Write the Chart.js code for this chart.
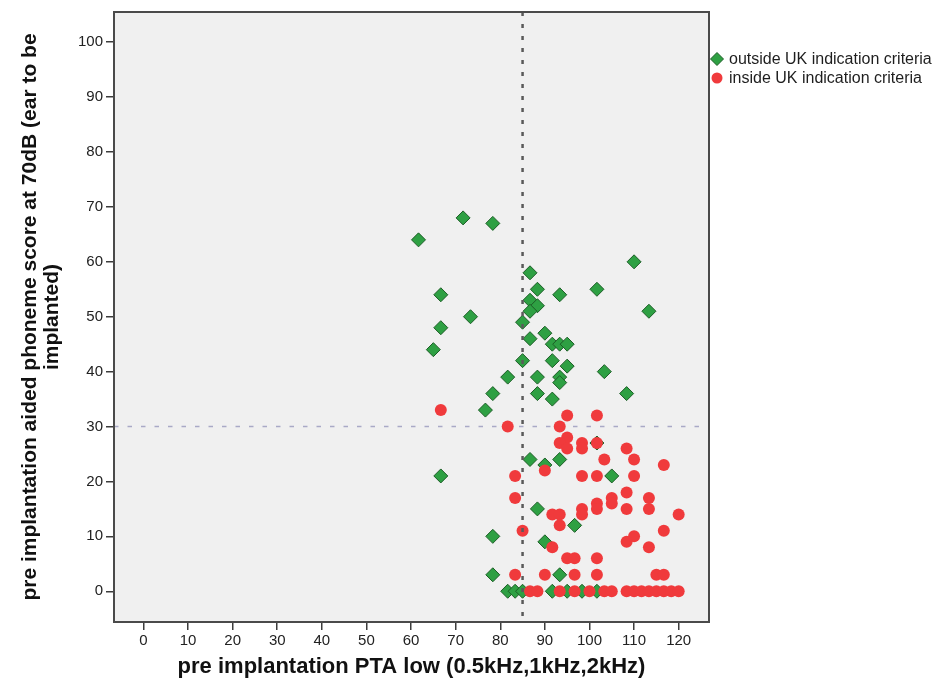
<!DOCTYPE html>
<html>
<head>
<meta charset="utf-8">
<title>Phoneme score vs PTA</title>
<script src="https://cdn.jsdelivr.net/npm/chart.js@4.4.0/dist/chart.umd.min.js"></script>
<style>
  html, body { margin: 0; padding: 0; background: #fff; }
  #scatter { display: block; }
</style>
</head>
<body>
<canvas id="scatter" width="941" height="686"></canvas>
<script>
// Patients outside the UK indication criteria (PTA low, aided phoneme score)
const outsideX = [71.67, 78.33, 61.67, 110, 86.67, 88.33, 93.33, 101.67, 66.67, 86.67, 88.33, 86.67, 113.33, 73.33, 85, 66.67, 90, 86.67, 91.67, 93.33, 95, 65, 85, 91.67, 95, 103.33, 81.67, 88.33, 93.33, 93.33, 78.33, 88.33, 108.33, 91.67, 76.67, 101.67, 86.67, 90, 93.33, 66.67, 105, 88.33, 96.67, 78.33, 90, 78.33, 93.33, 81.67, 83.33, 85, 91.67, 95, 98.33, 101.67]
const outsideY = [68, 67, 64, 60, 58, 55, 54, 55, 54, 53, 52, 51, 51, 50, 49, 48, 47, 46, 45, 45, 45, 44, 42, 42, 41, 40, 39, 39, 39, 38, 36, 36, 36, 35, 33, 27, 24, 23, 24, 21, 21, 15, 12, 10, 9, 3, 3, 0, 0, 0, 0, 0, 0, 0]

// Patients inside the UK indication criteria
const insideX = [66.67, 95, 101.67, 81.67, 93.33, 95, 93.33, 95, 98.33, 98.33, 101.67, 108.33, 103.33, 110, 116.67, 90, 83.33, 98.33, 101.67, 110, 108.33, 83.33, 105, 113.33, 105, 101.67, 101.67, 98.33, 108.33, 113.33, 98.33, 91.67, 93.33, 120, 93.33, 85, 116.67, 110, 108.33, 91.67, 113.33, 95, 96.67, 101.67, 83.33, 90, 96.67, 101.67, 115, 116.67, 86.67, 88.33, 93.33, 96.67, 100, 103.33, 105, 108.33, 110, 111.67, 113.33, 115, 116.67, 118.33, 120]
const insideY = [33, 32, 32, 30, 30, 28, 27, 26, 27, 26, 27, 26, 24, 24, 23, 22, 21, 21, 21, 21, 18, 17, 17, 17, 16, 16, 15, 15, 15, 15, 14, 14, 14, 14, 12, 11, 11, 10, 9, 8, 8, 6, 6, 6, 3, 3, 3, 3, 3, 3, 0, 0, 0, 0, 0, 0, 0, 0, 0, 0, 0, 0, 0, 0, 0]

const seriesLabels = ["outside UK indication criteria", "inside UK indication criteria"]
const xTicks = [0, 10, 20, 30, 40, 50, 60, 70, 80, 90, 100, 110, 120]
const yTicks = [0, 10, 20, 30, 40, 50, 60, 70, 80, 90, 100]

// Reference lines: PTA 85 dB and phoneme score 30 %
const ptaCutoff = 85
const scoreCutoff = 30

const FONT = "'Liberation Sans', Arial, sans-serif"

document.addEventListener("DOMContentLoaded", () => {
  drawScatter()
})

function toPoints(xs, ys) {
  return xs.map((x, i) => ({ x: x, y: ys[i] }))
}

// grey plot panel behind everything
const panelBackground = {
  id: "panelBackground",
  beforeDraw(chart) {
    const { ctx, chartArea: a } = chart
    ctx.save()
    ctx.fillStyle = "#f0f0f0"
    ctx.fillRect(a.left, a.top, a.right - a.left, a.bottom - a.top)
    ctx.restore()
  },
}

// cut-off lines: score line under the markers, PTA line over them
const cutoffLines = {
  id: "cutoffLines",
  beforeDatasetsDraw(chart) {
    const { ctx, chartArea: a, scales } = chart
    const y = scales.y.getPixelForValue(scoreCutoff)
    ctx.save()
    ctx.strokeStyle = "#a9a9c6"
    ctx.lineWidth = 1.5
    ctx.setLineDash([4.5, 9])
    ctx.beginPath()
    ctx.moveTo(a.left, y)
    ctx.lineTo(a.right, y)
    ctx.stroke()
    ctx.restore()
  },
  afterDatasetsDraw(chart) {
    const { ctx, chartArea: a, scales } = chart
    const x = scales.x.getPixelForValue(ptaCutoff)
    ctx.save()
    ctx.strokeStyle = "#5a5a5a"
    ctx.lineWidth = 2.5
    ctx.setLineDash([4, 8])
    ctx.beginPath()
    ctx.moveTo(x, a.top)
    ctx.lineTo(x, a.bottom)
    ctx.stroke()
    ctx.restore()
  },
}

// frame round the plot panel
const panelFrame = {
  id: "panelFrame",
  afterDraw(chart) {
    const { ctx, chartArea: a } = chart
    ctx.save()
    ctx.strokeStyle = "#4a4a4a"
    ctx.lineWidth = 2
    ctx.strokeRect(a.left, a.top, a.right - a.left, a.bottom - a.top)
    ctx.restore()
  },
}

// legend to the right of the panel, no box
const sideLegend = {
  id: "sideLegend",
  afterDraw(chart) {
    const { ctx, chartArea: a } = chart
    ctx.save()
    ctx.font = "16px " + FONT
    ctx.textBaseline = "middle"
    chart.data.datasets.forEach((ds, i) => {
      const x = a.right + 8
      const y = a.top + 47 + i * 19
      ctx.fillStyle = ds.backgroundColor
      ctx.strokeStyle = ds.borderColor
      ctx.lineWidth = ds.borderWidth
      Chart.helpers.drawPoint(ctx, {
        pointStyle: ds.pointStyle,
        radius: ds.pointStyle === "circle" ? 5.5 : 6.5,
        borderWidth: ds.borderWidth,
        rotation: 0,
      }, x, y)
      ctx.fillStyle = "#1e1e1e"
      ctx.fillText(seriesLabels[i], x + 12, y + 1)
    })
    ctx.restore()
  },
}

function drawScatter() {
  const ctx = document.getElementById("scatter").getContext("2d")
  new Chart(ctx, {
    type: "scatter",
    data: {
      datasets: [
        {
          label: seriesLabels[0],
          data: toPoints(outsideX, outsideY),
          pointStyle: "rectRot",
          pointRadius: 7,
          backgroundColor: "#2ea043",
          borderColor: "#1d5e27",
          borderWidth: 1,
          order: 1,
        },
        {
          label: seriesLabels[1],
          data: toPoints(insideX, insideY),
          pointStyle: "circle",
          pointRadius: 6,
          backgroundColor: "#f03a3c",
          borderColor: "#f03a3c",
          borderWidth: 0,
          order: 0,
        },
      ],
    },
    options: {
      responsive: false,
      animation: false,
      devicePixelRatio: 1,
      layout: { padding: { left: 0, top: 10, right: 232, bottom: 0 } },
      plugins: {
        legend: { display: false },
        tooltip: { enabled: false },
      },
      scales: {
        x: {
          type: "linear",
          min: -6.6,
          max: 126.8,
          afterBuildTicks: (scale) => {
            scale.ticks = xTicks.map((v) => ({ value: v }))
          },
          afterFit: (scale) => {
            scale.height = 64
          },
          grid: { drawOnChartArea: false, drawTicks: true, tickLength: 8, color: "#3c3c3c", lineWidth: 1.5 },
          border: { display: false },
          ticks: {
            padding: 2,
            color: "#222",
            font: { family: FONT, size: 15 },
            maxRotation: 0,
          },
          title: {
            display: true,
            text: "pre implantation PTA low (0.5kHz,1kHz,2kHz)",
            color: "#111",
            font: { family: FONT, size: 22, weight: "bold", lineHeight: 1.05 },
            padding: { top: 0, bottom: 8 },
          },
        },
        y: {
          type: "linear",
          min: -5.6,
          max: 105.5,
          afterBuildTicks: (scale) => {
            scale.ticks = yTicks.map((v) => ({ value: v }))
          },
          afterFit: (scale) => {
            scale.width = 114
          },
          grid: { drawOnChartArea: false, drawTicks: true, tickLength: 8, color: "#3c3c3c", lineWidth: 1.5 },
          border: { display: false },
          ticks: {
            padding: 3,
            color: "#222",
            font: { family: FONT, size: 15 },
          },
          title: {
            display: true,
            text: ["pre implantation aided phoneme score at 70dB (ear to be", "implanted)"],
            color: "#111",
            font: { family: FONT, size: 21, weight: "bold", lineHeight: 1.05 },
            padding: { top: 19, bottom: 0 },
          },
        },
      },
    },
    plugins: [panelBackground, cutoffLines, panelFrame, sideLegend],
  })
}
</script>
</body>
</html>
